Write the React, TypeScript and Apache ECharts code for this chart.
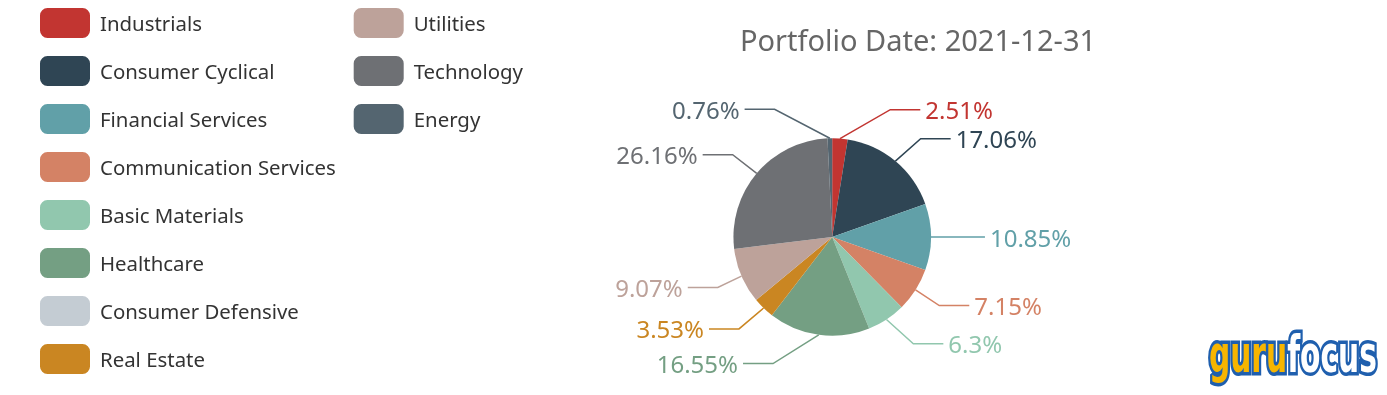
import React, { useEffect, useRef } from "react";
import * as echarts from "echarts";

const sectors = [
  "Industrials",
  "Consumer Cyclical",
  "Financial Services",
  "Communication Services",
  "Basic Materials",
  "Healthcare",
  "Consumer Defensive",
  "Real Estate",
  "Utilities",
  "Technology",
  "Energy",
];
const weights = [2.51, 17.06, 10.85, 7.15, 6.3, 16.55, 0, 3.53, 9.07, 26.16, 0.76];
const colors = [
  "#c23531",
  "#2f4554",
  "#61a0a8",
  "#d48265",
  "#91c7ae",
  "#749f83",
  "#c4ccd3",
  "#ca8622",
  "#bda29a",
  "#6e7074",
  "#546570",
];
const titleText = "Portfolio Date: 2021-12-31";

const FONT = "'Noto Sans', sans-serif";
const LOGO_FONT = "'DejaVu Sans Condensed', 'DejaVu Sans', sans-serif";

const LINE_LEN = 29;
const LINE_LEN2 = 30;
const LABEL_DIST = 5;

export default function App() {
  const ref = useRef<HTMLDivElement>(null);
  useEffect(() => {
    document.body.style.margin = "0";
    const chart = echarts.init(ref.current!, null, { renderer: "svg" });
    const W = chart.getWidth();
    const H = chart.getHeight();
    const cx = W * 0.6;
    const cy = H * 0.6;
    const r = (Math.min(W, H) / 2) * 0.5;
    const total = weights.reduce((a, b) => a + b, 0);
    const starts: number[] = [];
    weights.reduce((acc, w, i) => {
      starts[i] = acc;
      return acc + w;
    }, 0);

    // Label placement in the style of the classic pie label layout
    const labelLayout = (params: any) => {
      const i = params.dataIndex;
      if (!weights[i]) return {};
      const midFrac = (starts[i] + weights[i] / 2) / total;
      const ang = ((90 - 360 * midFrac) * Math.PI) / 180;
      const dx = Math.cos(ang);
      const dy = -Math.sin(ang);
      const dir = dx < 0 ? -1 : 1;
      const edge = [cx + r * dx, cy + r * dy];
      const y = cy + (r + LINE_LEN) * dy;
      const dY = Math.abs(y - cy);
      const R = r + LINE_LEN + LINE_LEN2;
      const dX = Math.sqrt(Math.max(R * R - dY * dY, 0));
      const textX = cx + dir * dX;
      const endX = textX - dir * LABEL_DIST;
      const cornerX = endX - dir * LINE_LEN2;
      return {
        x: textX,
        y,
        align: dir < 0 ? "right" : "left",
        verticalAlign: "middle",
        labelLinePoints: [edge, [cornerX, y], [endX, y]],
      };
    };

    chart.setOption({
      animation: false,
      color: colors,
      textStyle: { fontFamily: FONT },
      title: {
        text: titleText,
        left: 735,
        top: 20,
        textStyle: { fontSize: 29, fontWeight: "normal", color: "#666", fontFamily: FONT },
      },
      legend: {
        orient: "vertical",
        left: 35,
        top: 3,
        height: 372,
        itemWidth: 50,
        itemHeight: 30,
        itemGap: 18,
        icon: "roundRect",
        data: sectors,
        textStyle: { fontSize: 20.4, color: "#333", fontFamily: FONT, padding: [0, 0, 0, 5] },
      },
      graphic: [
        {
          type: "text",
          x: 1209,
          y: 328,
          scaleX: 0.75,
          scaleY: 1.17,
          style: {
            text: "{a|guru}{b|focus}",
            textVerticalAlign: "top",
            rich: {
              a: {
                fontSize: 44,
                fontWeight: "bold",
                fill: "#f7b500",
                stroke: "#1f5fae",
                lineWidth: 6,
                fontFamily: LOGO_FONT,
              },
              b: {
                fontSize: 44,
                fontWeight: "bold",
                fill: "#ffffff",
                stroke: "#1f5fae",
                lineWidth: 6,
                fontFamily: LOGO_FONT,
              },
            },
          },
        },
      ],
      series: [
        {
          type: "pie",
          center: ["60%", "60%"],
          radius: "50%",
          startAngle: 90,
          label: {
            formatter: "{c}%",
            fontSize: 24,
            fontFamily: FONT,
          },
          labelLine: { length: LINE_LEN, length2: LINE_LEN2, lineStyle: { width: 1.5 } },
          labelLayout,
          data: sectors.map((name, i) => {
            const item: any = {
              name,
              value: weights[i],
              label: { color: colors[i] },
            };
            if (weights[i] === 0) {
              item.label = { show: false };
              item.labelLine = { show: false };
            }
            return item;
          }),
        },
      ],
    });
    return () => chart.dispose();
  }, []);
  return (
    <div
      ref={ref}
      style={{ position: "fixed", left: 0, top: 0, width: 1387, height: 395 }}
    />
  );
}
